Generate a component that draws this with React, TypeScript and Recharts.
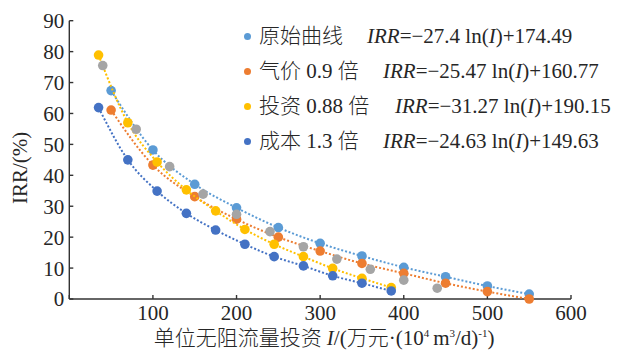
import React from 'react';
import { ScatterChart, Scatter, XAxis, YAxis } from 'recharts';

// Tick labels
const xTicks = [0, 100, 200, 300, 400, 500, 600];
const yTicks = [0, 10, 20, 30, 40, 50, 60, 70, 80, 90];

// 原始曲线
const originalX = [50, 100, 150, 200, 250, 300, 350, 400, 450, 500, 550];
const originalY = [67.4, 48.2, 37.1, 29.5, 23.1, 18.0, 13.9, 10.25, 7.2, 4.2, 1.6];
// 气价 0.9 倍
const gasX = [50, 100, 150, 200, 250, 300, 350, 400, 450, 500, 550];
const gasY = [61.1, 43.3, 33.1, 25.8, 20.0, 15.5, 11.5, 8.3, 5.1, 2.4, 0];
// 投资 0.88 倍
const investX = [35, 70, 105, 140, 175, 210, 245, 280, 315, 350, 385];
const investY = [78.9, 57.0, 44.3, 35.3, 28.5, 22.5, 17.7, 13.7, 9.9, 6.7, 3.7];
// 成本 1.3 倍
const costX = [35, 70, 105, 140, 175, 210, 245, 280, 315, 350, 385];
const costY = [61.9, 45.0, 34.9, 27.7, 22.3, 17.7, 13.7, 10.7, 7.5, 5.1, 2.6];
// unlabeled grey series
const greyX = [40, 80, 120, 160, 200, 240, 280, 320, 360, 400, 440];
const greyY = [75.5, 54.9, 42.8, 33.9, 27.4, 21.8, 16.9, 12.9, 9.6, 6.1, 3.5];

const toPoints = (xs: number[], ys: number[]) => xs.map((x, i) => ({ x, y: ys[i] }));

const C_ORIG = '#5B9BD5';
const C_GAS = '#ED7D31';
const C_GREY = '#A5A5A5';
const C_INV = '#FFC000';
const C_COST = '#4472C4';

const FONT = "'Liberation Serif','Times New Roman','Noto Sans CJK SC',serif";
const TEXT = '#262626';
const AXIS = '#333333';

const dot = (color: string) => (p: any) => (
  <circle cx={p.cx} cy={p.cy} r={4.8} fill={color} />
);

const lineStyle = (color: string) => ({
  stroke: color,
  strokeWidth: 2,
  strokeDasharray: '2 2',
});

const YTitle = (props: any) => {
  const vb = props.viewBox;
  const cx = vb.x + 20;
  const cy = vb.y + vb.height / 2 + 8;
  return (
    <text
      x={cx}
      y={cy}
      transform={`rotate(-90 ${cx} ${cy})`}
      textAnchor="middle"
      dominantBaseline="central"
      fontFamily={FONT}
      fontSize={21}
      fill={TEXT}
    >
      IRR/(%)
    </text>
  );
};

const XTitle = (props: any) => {
  const vb = props.viewBox;
  const cx = vb.x + vb.width / 2 + 4;
  const cy = vb.y + 46;
  return (
    <text x={cx} y={cy} textAnchor="middle" fontFamily={FONT} fontSize={21} fill={TEXT}>
      <tspan fontWeight={300}>单位无阻流量投资</tspan>
      <tspan fontStyle="italic" dx={5}>I</tspan>
      <tspan>/(</tspan>
      <tspan fontWeight={300}>万元</tspan>
      <tspan>·(10</tspan>
      <tspan fontSize={11} dy={-8}>4</tspan>
      <tspan dy={8} dx={4}>m</tspan>
      <tspan fontSize={11} dy={-8}>3</tspan>
      <tspan dy={8}>/d)</tspan>
      <tspan fontSize={11} dy={-8}>-1</tspan>
      <tspan dy={8}>)</tspan>
    </text>
  );
};

const legendRows = [
  { color: C_ORIG, label: '原始曲线', coef: '27.4', icpt: '174.49', top: 36, fLeft: 367 },
  { color: C_GAS, label: '气价 0.9 倍', coef: '25.47', icpt: '160.77', top: 71, fLeft: 383 },
  { color: C_INV, label: '投资 0.88 倍', coef: '31.27', icpt: '190.15', top: 106, fLeft: 395 },
  { color: C_COST, label: '成本 1.3 倍', coef: '24.63', icpt: '149.63', top: 141, fLeft: 383 },
];

export default function App() {
  return (
    <div style={{ position: 'absolute', left: 0, top: 0, width: 635, height: 355, background: '#fff', fontFamily: FONT }}>
      <ScatterChart
        width={635}
        height={355}
        margin={{ top: 20.7, right: 64, bottom: 0, left: 0 }}
      >
        <XAxis
          type="number"
          dataKey="x"
          domain={[0, 600]}
          ticks={xTicks}
          tickFormatter={(v: number) => (v === 0 ? '' : String(v))}
          height={56}
          axisLine={{ stroke: AXIS, strokeWidth: 1.4 }}
          tickLine={{ stroke: AXIS, strokeWidth: 1.4 }}
          tickSize={-4}
          tickMargin={10}
          tick={{ fill: TEXT, fontSize: 21, fontFamily: FONT }}
          label={<XTitle />}
        />
        <YAxis
          type="number"
          dataKey="y"
          domain={[0, 90]}
          ticks={yTicks}
          width={69.3}
          axisLine={{ stroke: AXIS, strokeWidth: 1.4 }}
          tickLine={{ stroke: AXIS, strokeWidth: 1.4 }}
          tickSize={-4}
          tickMargin={9}
          tick={{ fill: TEXT, fontSize: 21, fontFamily: FONT }}
          label={<YTitle />}
        />
        <Scatter
          data={toPoints(originalX, originalY)}
          fill={C_ORIG}
          shape={dot(C_ORIG)}
          line={lineStyle(C_ORIG)}
          lineJointType="monotoneX"
          isAnimationActive={false}
        />
        <Scatter
          data={toPoints(gasX, gasY)}
          fill={C_GAS}
          shape={dot(C_GAS)}
          line={lineStyle(C_GAS)}
          lineJointType="monotoneX"
          isAnimationActive={false}
        />
        <Scatter
          data={toPoints(investX, investY)}
          fill={C_INV}
          shape={dot(C_INV)}
          line={lineStyle(C_INV)}
          lineJointType="monotoneX"
          isAnimationActive={false}
        />
        <Scatter
          data={toPoints(greyX, greyY)}
          fill={C_GREY}
          shape={dot(C_GREY)}
          isAnimationActive={false}
        />
        <Scatter
          data={toPoints(costX, costY)}
          fill={C_COST}
          shape={dot(C_COST)}
          line={lineStyle(C_COST)}
          lineJointType="monotoneX"
          isAnimationActive={false}
        />
      </ScatterChart>
      {legendRows.map((r) => (
        <div key={r.label} style={{ position: 'absolute', left: 0, top: r.top - 13, height: 26, width: 635, fontSize: 21, color: TEXT, lineHeight: '26px', whiteSpace: 'nowrap' }}>
          <span style={{ position: 'absolute', left: 244, top: 9.5, width: 7, height: 7, borderRadius: '50%', background: r.color }} />
          <span style={{ position: 'absolute', left: 259, fontWeight: 300 }}>{r.label}</span>
          <span style={{ position: 'absolute', left: r.fLeft }}>
            <i>IRR</i>=−{r.coef} ln(<i>I</i>)+{r.icpt}
          </span>
        </div>
      ))}
    </div>
  );
}
